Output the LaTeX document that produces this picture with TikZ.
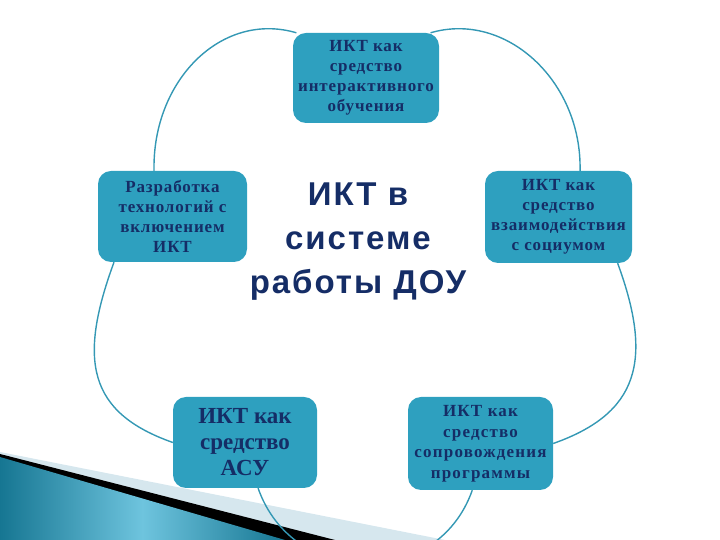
\documentclass[tikz,border=0pt]{standalone}
\usepackage{fontspec}
\setmainfont{Liberation Serif}
\newfontfamily\headfont{Liberation Sans}
\usepackage{xcolor}
\usetikzlibrary{backgrounds}

\definecolor{boxteal}{RGB}{46,160,191}
\definecolor{arcteal}{RGB}{52,152,180}
\definecolor{navy}{RGB}{21,45,102}
\definecolor{wedgedark}{RGB}{22,118,146}
\definecolor{wedgelight}{RGB}{110,196,222}
\definecolor{wedgepale}{RGB}{214,231,238}

\begin{document}
\begin{tikzpicture}[x = 1pt, y = 1pt,
	ictbox/.style = {fill = boxteal, rounded corners = 13pt, text = navy, align = center, inner sep = 0pt,
		font = \bfseries\fontsize{17}{20}\selectfont\addfontfeatures{LetterSpace=5}},
	ring/.style = {draw = arcteal, line width = 1.4pt}]
	\useasboundingbox (0,0) rectangle (720,540);

	\node [ictbox, minimum width = 146pt, minimum height = 90pt] (ikt1) at (366,462) {ИКТ как\\средство\\интерактивного\\обучения};
	\node [ictbox, minimum width = 149pt, minimum height = 91pt] (ikt2) at (172.5,323.5) {Разработка\\технологий с\\включением\\ИКТ};
	\node [ictbox, minimum width = 147pt, minimum height = 92pt] (ikt3) at (558.5,323) {ИКТ как\\средство\\взаимодействия\\с социумом};
	\node [ictbox, minimum width = 144pt, minimum height = 91pt, font = \bfseries\fontsize{23}{26}\selectfont] (ikt4) at (245,97.5) {ИКТ как\\средство\\АСУ};
	\node [ictbox, minimum width = 145pt, minimum height = 93pt, font = \bfseries\fontsize{17}{20.5}\selectfont\addfontfeatures{LetterSpace=7}] (ikt5) at (480.5,96.5) {ИКТ как\\средство\\сопровождения\\программы};

	\node [text = navy, align = center, font = \headfont\bfseries\fontsize{33}{44}\selectfont\addfontfeatures{LetterSpace=6}] (core) at (358,298) {ИКТ в\\системе\\работы ДОУ};

	\begin{scope}[on background layer]
		% corner wedge
		\fill [wedgepale] (0,88) -- (445,0) -- (0,0) -- cycle;
		\fill [black] (0,86) -- (335,0) -- (0,0) -- cycle;
		\shade [left color = wedgedark, right color = wedgedark, middle color = wedgelight] (0,83) -- (285,0) -- (0,0) -- cycle;

		\begin{scope}[ring]
			\draw (ikt1.147) .. controls +(-75,22) and +(-2,90) .. (ikt2.112);
			\draw (ikt1.35) .. controls +(75,22) and +(2,90) .. (ikt3.65);
			\draw (ikt2.218) .. controls +(-36,-98) and +(-85,30) .. (ikt4.west);
			\draw (ikt3.322) .. controls +(36,-98) and +(85,30) .. (ikt5.east);
			\draw (ikt4.286) .. controls +(35,-100) and +(-35,-100) .. (ikt5.260);
		\end{scope}
	\end{scope}
\end{tikzpicture}
\end{document}
